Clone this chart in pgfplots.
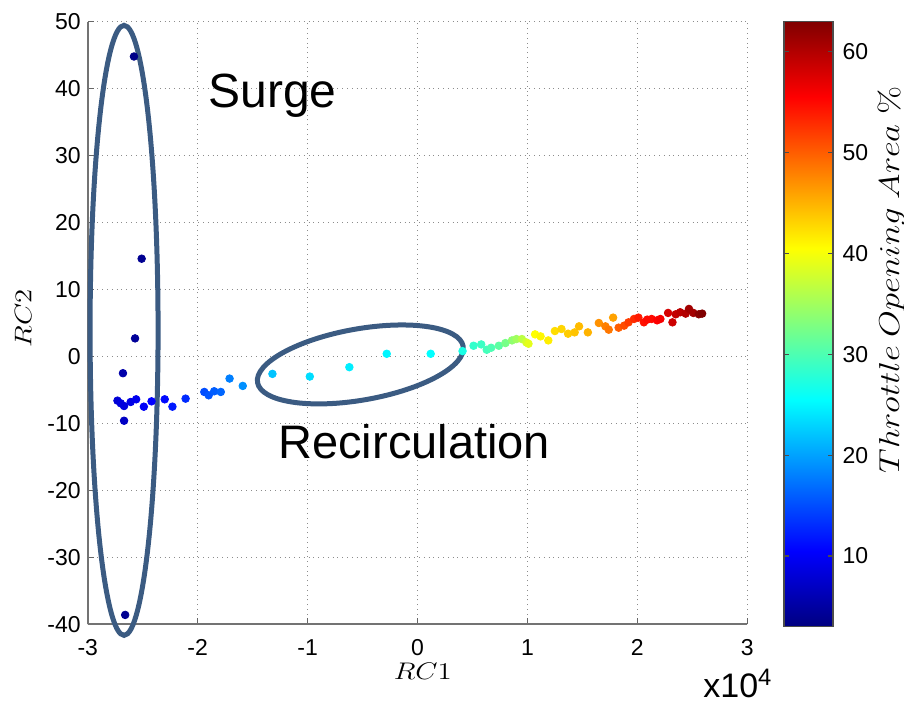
\documentclass[border=0pt]{standalone}
\usepackage[no-math]{fontspec}
\setmainfont{Liberation Sans}
\usepackage{pgfplots}
\pgfplotsset{compat=1.18}
\usetikzlibrary{shapes.geometric}
\definecolor{ringblue}{RGB}{59,91,130}

\begin{document}
\begin{tikzpicture}
\path[use as bounding box] (0,0) rectangle (452pt,352pt);
\begin{axis}[
  at={(43.9pt,39.85pt)}, anchor=south west,
  scale only axis, width=329.7pt, height=301.3pt,
  xmin=-3, xmax=3, ymin=-40, ymax=50,
  xtick={-3,-2,...,3}, ytick={-40,-30,...,50},
  axis x line*=bottom, axis y line*=left,
  axis line style={-, black!55, line width=0.8pt},
  tick align=inside, major tick length=3pt,
  tick style={black!60, line width=0.6pt},
  grid=major, grid style={dotted, black!45, line width=0.6pt},
  /pgf/number format/assume math mode=true,
  ticklabel style={font=\fontsize{11.5}{13}\selectfont},
  xticklabel style={yshift=-4pt},
  xlabel={\scalebox{1.2}[1]{$RC1$}},
  ylabel={\scalebox{1.2}[1]{$RC2$}},
  xlabel style={font=\fontsize{13}{15}\selectfont, at={(axis description cs:0.508,0)}, anchor=center, yshift=-23.5pt},
  ylabel style={font=\fontsize{13}{15}\selectfont, at={(axis description cs:-0.098,0.508)}, anchor=center},
  clip=false,
  colorbar,
  colormap/jet,
  colorbar/width=24.5pt,
  point meta min=3, point meta max=63,
  colorbar style={
    at={(parent axis.north east)}, anchor=north west, xshift=9.9pt, yshift=0.2pt,
    scale only axis, height=302.7pt,
    ytick={10,20,...,60},
    ytick pos=both, yticklabel pos=right,
    tick align=inside, major tick length=2.5pt,
    tick style={black!70, line width=0.6pt},
    axis line style={black!70, line width=0.6pt},
    /pgf/number format/assume math mode=true,
    yticklabel style={font=\fontsize{11.5}{13}\selectfont, xshift=1.2pt},
  },
]
\addplot[scatter, only marks, mark=*, mark size=1.9pt,
  scatter/use mapped color={draw=mapped color, fill=mapped color},
  point meta=explicit]
table[x=x, y=y, meta=c] {
x y c
-2.58 44.8 3.5
-2.51 14.6 4
-2.57 2.7 4.5
-2.68 -2.5 5.5
-2.66 -38.6 4
-2.67 -9.6 7
-2.73 -6.6 8
-2.70 -7.0 8.5
-2.67 -7.4 8.5
-2.61 -6.8 9
-2.56 -6.4 9.5
-2.49 -7.5 10
-2.42 -6.7 10.5
-2.30 -6.4 11
-2.23 -7.5 12
-2.11 -6.3 13
-1.94 -5.3 15
-1.90 -5.8 15.5
-1.85 -5.2 16
-1.79 -5.3 16.5
-1.71 -3.3 18
-1.59 -4.4 19
-1.32 -2.6 22
-0.98 -3.0 23.5
-0.62 -1.6 24.5
-0.28 0.4 25
0.12 0.4 25.5
0.41 0.8 27
0.51 1.6 28.5
0.58 1.8 29
0.63 1.0 29.5
0.67 1.3 30
0.74 1.6 31
0.80 2.0 32.5
0.86 2.4 34
0.90 2.6 35
0.95 2.6 36.5
0.99 2.1 38
1.01 1.9 39
1.07 3.3 40.5
1.12 3.0 41
1.19 2.4 41.5
1.25 3.8 42.5
1.31 4.1 43
1.37 3.4 43.5
1.43 3.6 44
1.47 4.5 44.5
1.55 3.6 45
1.65 5.0 47
1.71 4.5 48
1.74 4.0 48.5
1.78 5.8 46
1.83 4.3 50
1.88 4.6 51
1.92 5.1 52
1.97 5.6 53
2.01 5.8 54
2.06 5.1 54.5
2.09 5.5 55
2.13 5.6 55
2.18 5.4 55.5
2.21 5.6 56
2.28 6.5 58
2.32 5.1 58.5
2.35 6.3 59
2.39 6.6 59.5
2.44 6.4 60
2.47 7.1 61
2.51 6.5 61
2.56 6.3 62.5
2.59 6.4 63
};
\node[draw=ringblue, line width=2.5pt, ellipse, inner sep=0pt,
  minimum width=34pt, minimum height=305pt] at (axis cs:-2.67,3.9) {};
\node[draw=ringblue, line width=2.5pt, ellipse, inner sep=0pt,
  minimum width=104.4pt, minimum height=35.6pt, rotate=10] at (axis cs:-0.52,-1.19) {};
\node[anchor=base, font=\fontsize{24}{28}\selectfont, inner sep=0pt] at (axis cs:-1.32,37.2) {Surge};
\node[anchor=base, font=\fontsize{23.5}{28}\selectfont, inner sep=0pt] at (axis cs:-0.03,-15.2) {Recirculation};
\end{axis}
\node[rotate=90, font=\fontsize{13.5}{16}\selectfont, inner sep=0pt] at (445.5pt,212pt)
  {\scalebox{1.2}[1]{$Throttle\ Opening\ Area\ \%$}};
\node[anchor=base west, font=\fontsize{17}{20}\selectfont, inner sep=0pt] at (351.5pt,3pt)
  {x10\textsuperscript{4}};
\end{tikzpicture}
\end{document}
